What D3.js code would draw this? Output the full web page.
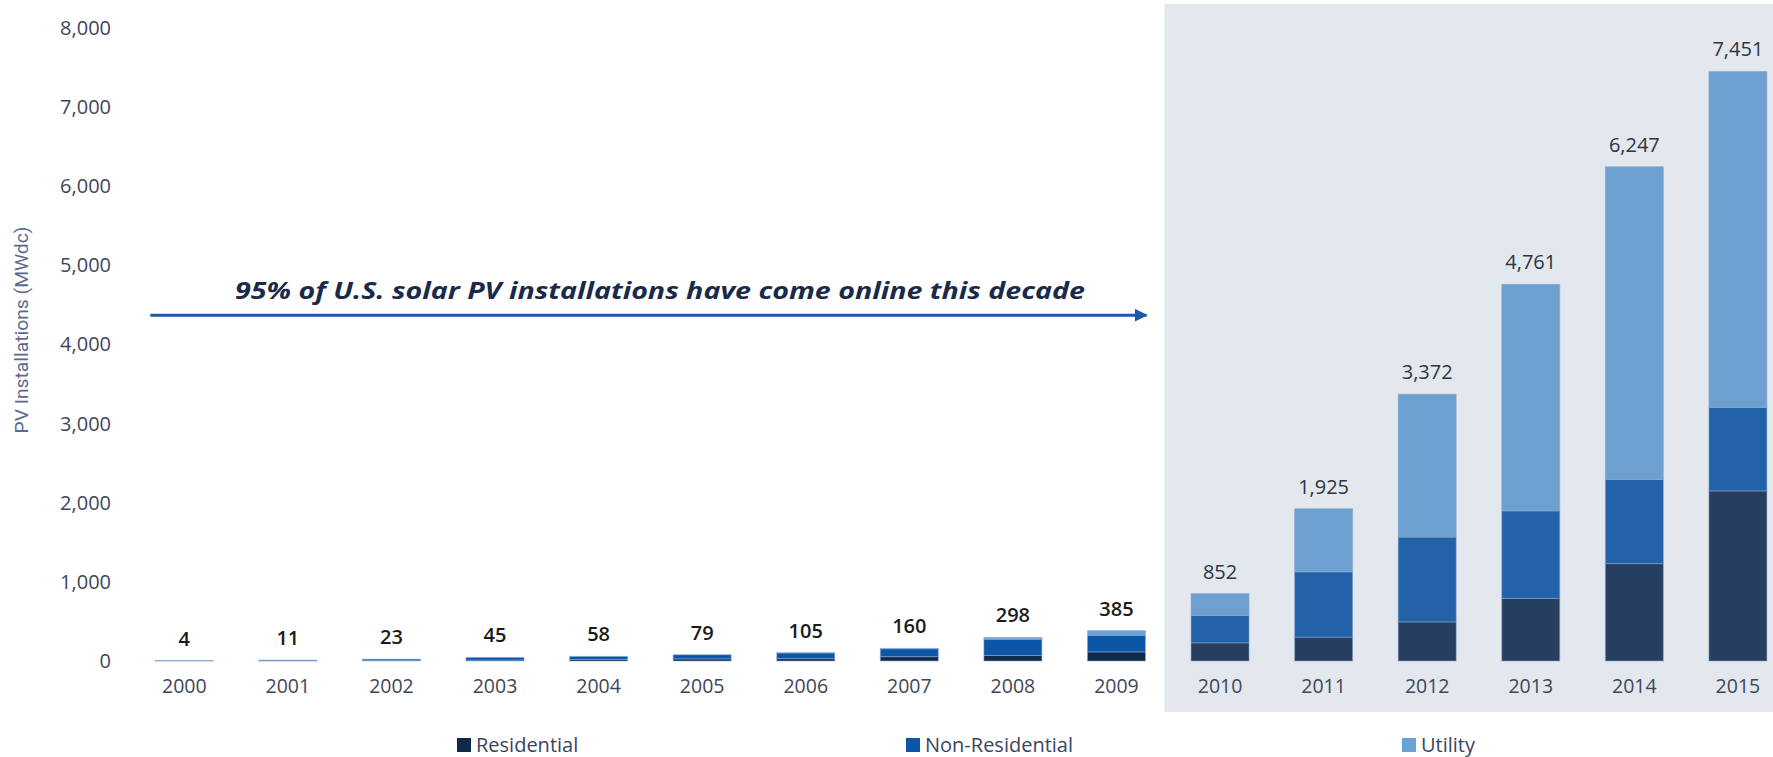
<!DOCTYPE html>
<html>
<head>
<meta charset="utf-8">
<script src="https://cdn.jsdelivr.net/npm/d3@7"></script>
<style>
  html, body { margin: 0; padding: 0; background: #ffffff; }
  svg { display: block; }
  text { font-family: "Open Sans", "Noto Sans", sans-serif; }
</style>
</head>
<body>
<svg id="chart" width="1773" height="757"></svg>
<script>
// Annual U.S. solar PV installations by market segment (MWdc)
const years = [2000, 2001, 2002, 2003, 2004, 2005, 2006, 2007,
               2008, 2009, 2010, 2011, 2012, 2013, 2014, 2015];
const residential    = [1, 4, 7, 12, 20, 27, 30, 55, 70, 115, 230, 302, 494, 792, 1231, 2150];
const nonResidential = [3, 7, 16, 33, 38, 52, 72, 100, 205, 210, 345, 825, 1072, 1105, 1063, 1055];
const utility        = [0, 0, 0, 0, 0, 0, 3, 5, 23, 60, 277, 798, 1806, 2864, 3953, 4246];

const seriesNames  = ["Residential", "Non-Residential", "Utility"];
const seriesColors = ["#112a4b", "#0b56a6", "#6aa4d6"];
const yTicks = [0, 1000, 2000, 3000, 4000, 5000, 6000, 7000, 8000];
const yTitle = "PV Installations (MWdc)";
const note = "95% of U.S. solar PV installations have come online this decade";
const decadeStart = 2010;
const noteLevel = 4370;

const rows = years.map((yr, i) => ({
  year: yr,
  "Residential": residential[i],
  "Non-Residential": nonResidential[i],
  "Utility": utility[i]
}));
const totals = rows.map(r => r["Residential"] + r["Non-Residential"] + r["Utility"]);

const svg = d3.select("#chart");

const x = d3.scaleBand()
  .domain(years)
  .range([132.5, 1789.7])
  .paddingInner(0.44)
  .paddingOuter(0.22);

const y = d3.scaleLinear()
  .domain([0, 8000])
  .range([661, 28]);

const color = d3.scaleOrdinal().domain(seriesNames).range(seriesColors);
const stacked = d3.stack().keys(seriesNames)(rows);

// stacked bars, with a faint light outline on each segment
const g = svg.append("g");
g.selectAll("g.series")
  .data(stacked)
  .join("g")
  .attr("class", "series")
  .attr("fill", d => color(d.key))
  .selectAll("rect")
  .data(d => d.filter(s => s[1] > s[0]))
  .join("rect")
  .attr("x", d => x(d.data.year))
  .attr("width", x.bandwidth())
  .attr("y", d => y(d[1]))
  .attr("height", d => Math.max(0, y(d[0]) - y(d[1])))
  .attr("stroke", "rgba(140,172,214,0.55)")
  .attr("stroke-width", 1);

// shaded panel marking the current decade
const step = x.step();
const panelLeft = x(decadeStart) - step * 0.257;
svg.append("rect")
  .attr("x", panelLeft)
  .attr("y", y(8000) - 24)
  .attr("width", 1773 - panelLeft)
  .attr("height", (y(0) + 51) - (y(8000) - 24))
  .attr("fill", "rgb(120,144,178)")
  .attr("fill-opacity", 0.207);

// y axis
const yAxis = d3.axisLeft(y)
  .tickValues(yTicks)
  .tickFormat(d3.format(","))
  .tickSize(0)
  .tickPadding(0);
const ya = svg.append("g")
  .attr("transform", "translate(111,0)")
  .call(yAxis);
ya.select(".domain").remove();
ya.selectAll("text")
  .attr("fill", "#3f4659")
  .style("font-size", "20px")
  .style("font-family", "'Open Sans', sans-serif");

// x axis labels
const xAxis = d3.axisBottom(x).tickSize(0).tickPadding(0);
const xa = svg.append("g")
  .attr("transform", `translate(0,${y(0)})`)
  .call(xAxis);
xa.select(".domain").remove();
xa.selectAll("text")
  .attr("y", 32)
  .attr("dy", 0)
  .attr("fill", "#3f4659")
  .style("font-size", "19.5px")
  .style("font-family", "'Open Sans', sans-serif");

// total labels
svg.append("g")
  .selectAll("text")
  .data(rows)
  .join("text")
  .attr("x", d => x(d.year) + x.bandwidth() / 2)
  .attr("y", (d, i) => y(totals[i]) - 15)
  .attr("text-anchor", "middle")
  .attr("fill", d => d.year < decadeStart ? "#1b1b1b" : "#2e3440")
  .style("font-size", "20px")
  .style("font-weight", d => d.year < decadeStart ? 600 : 400)
  .text((d, i) => d3.format(",")(totals[i]));

// y axis title
svg.append("text")
  .attr("transform", "translate(28,330) rotate(-90)")
  .attr("text-anchor", "middle")
  .attr("fill", "#5b6b8c")
  .attr("textLength", 207)
  .attr("lengthAdjust", "spacingAndGlyphs")
  .style("font-size", "18px")
  .style("font-family", "Roboto, sans-serif")
  .text(yTitle);

// decade arrow and note
const arrowY = y(noteLevel);
const arrowX0 = x(years[0]) - 5;
const arrowX1 = x(decadeStart - 1) + x.bandwidth() + 5;
svg.append("defs").append("marker")
  .attr("id", "head")
  .attr("viewBox", "0 0 10 10")
  .attr("refX", 9)
  .attr("refY", 5)
  .attr("markerWidth", 4.4)
  .attr("markerHeight", 4.4)
  .attr("orient", "auto")
  .attr("markerUnits", "strokeWidth")
  .append("path")
  .attr("d", "M0,0 L10,5 L0,10 Z")
  .attr("fill", "#1f5aa6");
svg.append("line")
  .attr("x1", arrowX0)
  .attr("x2", arrowX1 - 4)
  .attr("y1", arrowY)
  .attr("y2", arrowY)
  .attr("stroke", "#1f5aa6")
  .attr("stroke-width", 3)
  .attr("marker-end", "url(#head)");
svg.append("text")
  .attr("x", 660)
  .attr("y", arrowY - 16)
  .attr("text-anchor", "middle")
  .attr("fill", "#1a2a48")
  .attr("textLength", 850)
  .attr("lengthAdjust", "spacingAndGlyphs")
  .style("font-size", "23px")
  .style("font-weight", 700)
  .style("font-style", "italic")
  .text(note);

// legend
const legendX = [457, 906, 1402];
const lg = svg.append("g")
  .selectAll("g")
  .data(seriesNames)
  .join("g")
  .attr("transform", (d, i) => `translate(${legendX[i]},745)`);
lg.append("rect")
  .attr("x", 0)
  .attr("y", -7)
  .attr("width", 14)
  .attr("height", 14)
  .attr("fill", d => color(d));
lg.append("text")
  .attr("x", 19)
  .attr("y", 7)
  .attr("fill", "#3a4560")
  .style("font-size", "20px")
  .text(d => d);
</script>
</body>
</html>
